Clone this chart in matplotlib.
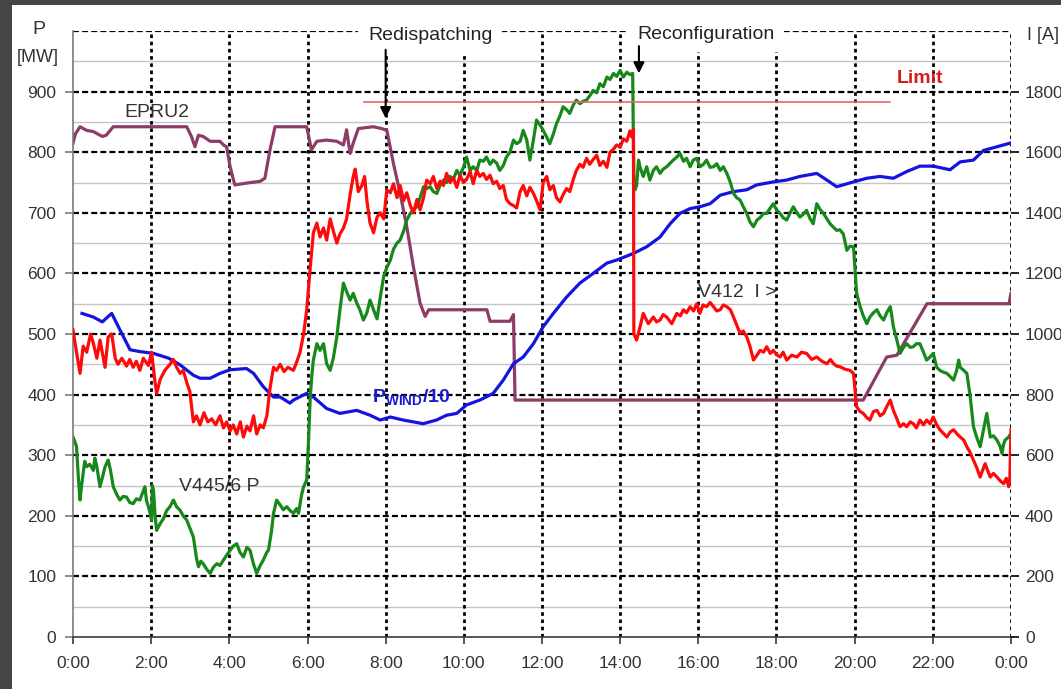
import numpy as np
import matplotlib.pyplot as plt
from matplotlib.patches import Rectangle

plt.rcParams['font.family'] = ['Liberation Sans', 'DejaVu Sans']
plt.rcParams['mathtext.fontset'] = 'custom'
plt.rcParams['mathtext.rm'] = 'Liberation Sans'
plt.rcParams['mathtext.bf'] = 'Liberation Sans:bold'

# time axis in hours

# EPRU2 power [MW]
epru2_t = [0.0, 0.06, 0.18, 0.35, 0.52, 0.75, 0.85, 1.03, 1.37, 1.8, 2.23, 2.5, 2.91, 3.03, 3.12, 3.21,
           3.33, 3.51, 3.76, 3.85, 3.93, 4.02, 4.14, 4.44, 4.79, 4.91, 5.04, 5.17, 5.64, 5.98, 6.10, 6.24,
           6.49, 6.75, 6.92, 7.0, 7.09, 7.17, 7.30, 7.68, 7.90, 8.03, 8.20, 8.37, 8.54, 8.71, 8.88, 9.01,
           9.10, 10.59, 10.67, 11.18, 11.27, 11.31, 20.22, 20.82, 21.08, 21.85, 23.95, 24.0]
epru2_p = [815, 830, 842, 836, 834, 826, 828, 842, 842, 842, 842, 842, 842, 826, 809, 828,
           826, 818, 818, 812, 809, 776, 746, 749, 752, 757, 804, 842, 842, 842, 804, 818,
           820, 818, 812, 837, 798, 815, 839, 842, 839, 836, 781, 732, 677, 611, 551, 529,
           540, 540, 521, 521, 532, 391, 391, 462, 465, 550, 550, 567]

# P_WIND / 10 [MW]
wind_t = [0.23, 0.52, 0.75, 0.99, 1.20, 1.46, 1.71, 2.06, 2.45, 2.74, 3.08, 3.25, 3.51, 3.76, 4.02, 4.44,
          4.62, 4.87, 5.13, 5.30, 5.55, 5.64, 5.98, 6.15, 6.49, 6.83, 7.26, 7.60, 7.86, 8.12, 8.45, 8.96,
          9.30, 9.56, 9.82, 10.07, 10.41, 10.75, 11.01, 11.27, 11.52, 11.78, 12.03, 12.29, 12.63, 12.97,
          13.31, 13.66, 13.91, 14.34, 14.68, 15.02, 15.28, 15.53, 15.79, 16.04, 16.30, 16.56, 16.90,
          17.24, 17.49, 17.92, 18.26, 18.60, 19.03, 19.29, 19.54, 19.97, 20.31, 20.65, 20.99, 21.33,
          21.67, 22.01, 22.44, 22.70, 23.04, 23.30, 23.64, 23.98]
wind_p = [534, 528, 520, 534, 507, 474, 471, 468, 460, 449, 432, 427, 427, 435, 441, 443,
          435, 413, 396, 396, 386, 391, 402, 396, 377, 369, 374, 366, 358, 363, 358, 352,
          358, 366, 369, 383, 391, 402, 424, 451, 462, 484, 512, 534, 561, 584,
          600, 617, 622, 633, 644, 660, 682, 699, 707, 710, 715, 729, 735,
          738, 746, 751, 754, 760, 765, 754, 743, 751, 757, 760, 757, 768,
          777, 777, 771, 784, 787, 803, 809, 815]

# V445/6 P [MW]
v445_t = [0.0, 0.05, 0.09, 0.14, 0.18, 0.22, 0.26, 0.30, 0.35, 0.43, 0.52, 0.56, 0.61, 0.69, 0.76, 0.82,
          0.90, 0.96, 1.03, 1.12, 1.20, 1.28, 1.37, 1.45, 1.54, 1.62, 1.71, 1.78, 1.84, 1.88, 1.93, 1.97,
          2.01, 2.03, 2.06, 2.10, 2.14, 2.23, 2.31, 2.40, 2.48, 2.57, 2.65, 2.74, 2.82, 2.91, 2.99, 3.08,
          3.16, 3.21, 3.27, 3.33, 3.42, 3.51, 3.59, 3.68, 3.76, 3.85, 3.93, 4.02, 4.10, 4.19, 4.27, 4.36,
          4.45, 4.53, 4.62, 4.70, 4.79, 4.87, 4.96, 5.00, 5.08, 5.13, 5.21, 5.30, 5.38, 5.47, 5.55, 5.64,
          5.72, 5.77, 5.85, 5.90, 5.98, 6.03, 6.07, 6.11, 6.15, 6.24, 6.32, 6.41, 6.49, 6.58, 6.66, 6.75,
          6.83, 6.92, 7.0, 7.09, 7.17, 7.26, 7.34, 7.43, 7.52, 7.60, 7.69, 7.78, 7.86, 7.95, 8.03, 8.12,
          8.20, 8.29, 8.37, 8.46, 8.54, 8.63, 8.71, 8.80, 8.88, 8.97, 9.05, 9.14, 9.22, 9.31, 9.39, 9.48,
          9.56, 9.65, 9.73, 9.82, 9.90, 9.99, 10.07, 10.16, 10.24, 10.33, 10.41, 10.50, 10.58, 10.67,
          10.75, 10.84, 10.92, 11.01, 11.09, 11.18, 11.27, 11.35, 11.44, 11.52, 11.61, 11.69, 11.78,
          11.86, 11.95, 12.03, 12.12, 12.20, 12.29, 12.37, 12.46, 12.54, 12.63, 12.71, 12.80, 12.88,
          12.97, 13.05, 13.14, 13.22, 13.31, 13.40, 13.48, 13.57, 13.66, 13.74, 13.83, 13.91, 14.00,
          14.08, 14.17, 14.25, 14.32, 14.35, 14.38, 14.42, 14.47, 14.51, 14.59, 14.68, 14.76, 14.85,
          14.93, 15.02, 15.10, 15.19, 15.28, 15.36, 15.45, 15.53, 15.62, 15.70, 15.79, 15.87, 15.96,
          16.04, 16.13, 16.21, 16.30, 16.39, 16.47, 16.56, 16.64, 16.73, 16.82, 16.90, 16.98, 17.07,
          17.15, 17.24, 17.32, 17.41, 17.50, 17.58, 17.67, 17.75, 17.84, 17.92, 18.00, 18.09, 18.17,
          18.26, 18.35, 18.43, 18.52, 18.60, 18.69, 18.77, 18.86, 18.94, 19.03, 19.12, 19.20, 19.29,
          19.37, 19.46, 19.54, 19.62, 19.71, 19.80, 19.88, 19.97, 20.05, 20.14, 20.22, 20.31, 20.39,
          20.48, 20.57, 20.65, 20.74, 20.82, 20.91, 20.95, 20.99, 21.08, 21.16, 21.25, 21.33, 21.42,
          21.50, 21.58, 21.67, 21.76, 21.84, 21.93, 22.01, 22.10, 22.18, 22.27, 22.36, 22.44, 22.53,
          22.61, 22.66, 22.70, 22.79, 22.87, 22.95, 23.04, 23.12, 23.21, 23.29, 23.38, 23.47, 23.55,
          23.64, 23.72, 23.77, 23.81, 23.85, 23.94, 24.0]
v445_p = [330, 322, 314, 260, 226, 250, 270, 290, 281, 285, 275, 295, 281, 248, 265, 281,
          292, 275, 248, 235, 226, 232, 231, 222, 220, 228, 226, 238, 248, 225, 215, 205,
          193, 250, 242, 200, 176, 187, 195, 209, 215, 226, 215, 209, 200, 193, 180, 165,
          130, 116, 125, 121, 112, 105, 115, 121, 118, 127, 135, 143, 150, 154, 140, 132,
          148, 143, 120, 105, 118, 127, 140, 143, 175, 204, 226, 218, 210, 215, 209, 204,
          212, 204, 235, 248, 259, 330, 396, 430, 457, 484, 473, 484, 451, 440, 460, 495,
          540, 584, 570, 556, 567, 551, 540, 523, 535, 556, 540, 525, 560, 595, 610, 622,
          640, 650, 655, 670, 688, 699, 705, 710, 725, 743, 740, 743, 735, 732, 745, 754,
          750, 760, 755, 770, 762, 775, 792, 770, 776, 770, 787, 785, 792, 780,
          787, 782, 770, 778, 792, 800, 820, 814, 818, 836, 820, 787, 820,
          853, 845, 836, 825, 814, 830, 847, 860, 875, 870, 864, 878, 886,
          880, 884, 886, 893, 902, 898, 913, 908, 924, 920, 930, 925, 935,
          924, 932, 928, 930, 748, 738, 745, 787, 775, 760, 776, 754, 770,
          776, 765, 772, 776, 782, 787, 792, 798, 785, 790, 776, 787, 790,
          776, 780, 787, 775, 776, 781, 770, 776, 765, 750, 732, 725, 721,
          710, 699, 685, 677, 688, 692, 699, 699, 708, 715, 705, 699, 692,
          688, 700, 710, 700, 693, 698, 704, 690, 682, 715, 705, 699, 690,
          682, 676, 671, 672, 665, 638, 645, 644, 567, 545, 530, 517, 528,
          535, 540, 530, 523, 535, 545, 530, 512, 490, 468, 478, 484, 478,
          479, 484, 484, 470, 457, 462, 468, 445, 440, 437, 435, 430, 424,
          440, 457, 445, 440, 435, 400, 347, 330, 314, 340, 369, 330, 332,
          325, 315, 303, 318, 325, 330, 336]

# V412 I [A]
v412_t = [0.0, 0.09, 0.18, 0.26, 0.35, 0.45, 0.52, 0.61, 0.69, 0.82, 0.90, 0.99, 1.08, 1.15, 1.25, 1.37,
          1.45, 1.54, 1.62, 1.71, 1.80, 1.93, 2.01, 2.10, 2.14, 2.23, 2.35, 2.48, 2.57, 2.65, 2.74, 2.82,
          2.91, 2.99, 3.08, 3.16, 3.25, 3.35, 3.45, 3.55, 3.65, 3.76, 3.85, 3.93, 4.02, 4.10, 4.19, 4.28,
          4.36, 4.45, 4.53, 4.62, 4.70, 4.79, 4.87, 4.96, 5.04, 5.13, 5.21, 5.30, 5.40, 5.50, 5.64, 5.73,
          5.81, 5.90, 5.98, 6.07, 6.15, 6.24, 6.32, 6.41, 6.49, 6.58, 6.66, 6.75, 6.83, 6.92, 7.0, 7.09,
          7.17, 7.22, 7.30, 7.39, 7.46, 7.52, 7.60, 7.69, 7.78, 7.86, 7.95, 8.03, 8.12, 8.20, 8.29, 8.37,
          8.46, 8.54, 8.63, 8.71, 8.80, 8.88, 8.97, 9.05, 9.14, 9.22, 9.31, 9.39, 9.48, 9.56, 9.65, 9.73,
          9.82, 9.90, 9.99, 10.07, 10.16, 10.24, 10.33, 10.41, 10.50, 10.58, 10.67, 10.75, 10.84, 10.92,
          11.01, 11.09, 11.18, 11.27, 11.35, 11.44, 11.52, 11.61, 11.69, 11.78, 11.86, 11.95, 12.03,
          12.12, 12.20, 12.29, 12.37, 12.46, 12.54, 12.63, 12.71, 12.80, 12.88, 12.97, 13.05, 13.14,
          13.22, 13.31, 13.40, 13.48, 13.57, 13.66, 13.74, 13.83, 13.91, 14.00, 14.08, 14.17, 14.25,
          14.30, 14.34, 14.35, 14.42, 14.51, 14.59, 14.66, 14.72, 14.85, 14.93, 15.02, 15.10, 15.19,
          15.32, 15.45, 15.54, 15.62, 15.70, 15.79, 15.88, 15.96, 16.04, 16.12, 16.21, 16.30, 16.39,
          16.47, 16.56, 16.64, 16.73, 16.82, 16.90, 16.98, 17.07, 17.15, 17.24, 17.32, 17.41, 17.50,
          17.58, 17.67, 17.75, 17.84, 17.92, 18.00, 18.09, 18.17, 18.26, 18.39, 18.52, 18.64, 18.77,
          18.90, 19.03, 19.16, 19.29, 19.38, 19.46, 19.54, 19.62, 19.75, 19.88, 19.97, 20.05, 20.14,
          20.22, 20.31, 20.39, 20.48, 20.57, 20.65, 20.74, 20.82, 20.91, 20.99, 21.08, 21.16, 21.25,
          21.33, 21.42, 21.50, 21.58, 21.67, 21.76, 21.84, 21.93, 22.01, 22.10, 22.18, 22.27, 22.36,
          22.44, 22.53, 22.62, 22.70, 22.79, 22.87, 22.95, 23.04, 23.12, 23.21, 23.29, 23.34, 23.40,
          23.47, 23.55, 23.64, 23.72, 23.81, 23.88, 23.94, 23.97, 24.0]
v412_i = [1014, 940, 870, 960, 940, 1000, 970, 920, 980, 890, 990, 1000, 920, 900, 920, 894,
          916, 890, 910, 880, 920, 896, 940, 840, 804, 850, 880, 900, 916, 890, 870, 880,
          840, 810, 710, 730, 700, 740, 710, 720, 700, 730, 690, 710, 680, 700, 670, 710,
          660, 696, 680, 730, 670, 700, 690, 730, 820, 890, 880, 900, 876, 890, 880, 910,
          940, 1000, 1080, 1220, 1334, 1366, 1320, 1350, 1310, 1380, 1340, 1300, 1330, 1350, 1380, 1460,
          1520, 1544, 1470, 1490, 1520, 1440, 1366, 1334, 1386, 1400, 1380, 1476, 1466, 1496, 1450, 1490,
          1440, 1466, 1424, 1400, 1444, 1410, 1450, 1508, 1496, 1520, 1480, 1504, 1490, 1530, 1500, 1516,
          1484, 1524, 1500, 1510, 1536, 1496, 1540, 1520, 1530, 1510, 1524, 1496, 1504, 1480,
          1490, 1444, 1430, 1424, 1416, 1470, 1490, 1456, 1484, 1464, 1440, 1410, 1500,
          1520, 1476, 1490, 1450, 1436, 1460, 1480, 1470, 1510, 1540, 1560, 1550, 1580,
          1560, 1576, 1590, 1556, 1570, 1550, 1600, 1610, 1624, 1616, 1644, 1636, 1670,
          1650, 1676, 1000, 980, 1024, 1068, 1050, 1034, 1056, 1040, 1046, 1064, 1056,
          1034, 1068, 1060, 1080, 1070, 1090, 1076, 1100, 1068, 1096, 1090, 1104, 1090,
          1076, 1080, 1096, 1090, 1080, 1056, 1030, 1002, 1010, 990, 960, 914, 930,
          946, 940, 958, 936, 946, 932, 924, 940, 914, 930, 924, 940, 936,
          916, 924, 910, 902, 916, 902, 894, 892, 884, 880, 870, 760, 744,
          738, 724, 716, 744, 748, 730, 738, 760, 782, 748, 720, 694, 704,
          694, 710, 704, 690, 716, 700, 716, 704, 726, 700, 684, 672, 660,
          676, 684, 670, 660, 650, 628, 610, 584, 560, 528, 556, 572, 550,
          528, 540, 528, 516, 506, 524, 496, 520, 684]

# current limit [A]
limit_t = [7.45, 20.9]
limit_i = [1765, 1765]

hours = list(range(0, 25, 2))
hour_labels = ['%d:00' % (h % 24) for h in hours]
p_ticks = list(range(0, 1000, 100))
i_ticks = list(range(0, 2000, 200))

fig = plt.figure(figsize=(10.61, 6.89), dpi=100)
fig.patch.set_facecolor('#454545')
fig.add_artist(Rectangle((12 / 1061, 0), 1, 1 - 5 / 689, transform=fig.transFigure,
                         facecolor='white', edgecolor='none', zorder=0))

ax = fig.add_axes([73 / 1061, 1 - 637 / 689, 938 / 1061, 606 / 689])
ax2 = ax.twinx()

ax.set_xlim(0, 24)
ax.set_ylim(0, 1000)
ax2.set_ylim(0, 2000)

# grid
for y in range(50, 1000, 100):
    ax.axhline(y, color='#c4c4c4', lw=1, zorder=0.5)
for y in range(100, 1001, 100):
    ax.axhline(y, color='black', lw=1.6, ls=(0, (2.7, 1.4)), zorder=0.6)
for h in hours[1:]:
    ax.axvline(h, color='black', lw=2.0, ls=(0, (1.3, 1.3)), zorder=0.6)

ax.plot(epru2_t, epru2_p, color='#8c3c66', lw=2.3, zorder=2)
ax.plot(wind_t, wind_p, color='#1414e0', lw=2.3, zorder=2)
ax.plot(v445_t, v445_p, color='#17891a', lw=2.3, zorder=2)
ax2.plot(v412_t, v412_i, color='#ff0a0a', lw=2.3, zorder=2)
ax2.plot(limit_t, limit_i, color='#e06a6a', lw=1.2, zorder=1.5)

# axes styling
for s in ['top', 'right']:
    ax.spines[s].set_visible(False)
for s in ax2.spines:
    ax2.spines[s].set_visible(False)
ax.spines['left'].set_color('#7a7a7a')
ax.spines['left'].set_linewidth(1.2)
ax.spines['bottom'].set_color('#3a3a3a')
ax.spines['bottom'].set_linewidth(1.2)

ax.set_xticks(hours)
ax.set_xticklabels(hour_labels)
ax.set_yticks(p_ticks)
ax2.set_yticks(i_ticks)
ax.tick_params(axis='x', length=5, width=1.2, color='#3a3a3a', pad=9, labelsize=12.5, labelcolor='#333333')
ax.tick_params(axis='y', length=6, width=1.2, color='#7a7a7a', pad=6, labelsize=12.5, labelcolor='#333333')
ax2.tick_params(axis='y', length=6, width=1.2, color='black', pad=4, labelsize=12.5, labelcolor='#333333')

fig.text(39 / 1061, 1 - 30 / 689, 'P', ha='center', va='center', fontsize=14, color='#333333')
fig.text(38 / 1061, 1 - 57 / 689, '[MW]', ha='center', va='center', fontsize=13, color='#333333')
fig.text(1027 / 1061, 1 - 35 / 689, 'I [A]', ha='left', va='center', fontsize=13, color='#333333')

# labels on the chart
tbox = dict(facecolor='white', edgecolor='none', boxstyle='square,pad=0.5')
ax2.text(9.14, 992, 'Redispatching', transform=ax.transData, ha='center', va='center',
         fontsize=14, color='#222222', bbox=tbox, zorder=6, clip_on=False)
ax2.text(16.2, 995, 'Reconfiguration', transform=ax.transData, ha='center', va='center',
         fontsize=14, color='#222222', bbox=tbox, zorder=6, clip_on=False)
arrow = dict(arrowstyle='-|>', color='black', lw=1.5, mutation_scale=16, shrinkA=0, shrinkB=0)
ax2.annotate('', xy=(8.0, 856), xycoords=ax.transData, xytext=(8.0, 969), textcoords=ax.transData,
             arrowprops=arrow, zorder=7)
ax2.annotate('', xy=(14.48, 930), xycoords=ax.transData, xytext=(14.48, 975), textcoords=ax.transData,
             arrowprops=arrow, zorder=7)

ax2.text(21.67, 922, 'Limit', transform=ax.transData, ha='center', va='center',
         fontsize=14, fontweight='bold', color='#d41c1c', zorder=6)
ax2.text(2.15, 865, 'EPRU2', transform=ax.transData, ha='center', va='center',
         fontsize=14, color='#333333', zorder=6)
ax2.text(3.74, 248, 'V445/6 P', transform=ax.transData, ha='center', va='center',
         fontsize=14, color='#333333', zorder=6)
ax2.text(15.99, 568, 'V412  I >', transform=ax.transData, ha='left', va='center',
         fontsize=14, color='#333333', zorder=6)
ax2.text(7.65, 396, r'$\mathbf{P_{WIND}/10}$', transform=ax.transData, ha='left', va='center',
         fontsize=14, color='#1a1ad0', zorder=6)

plt.savefig('out.png', dpi=100, facecolor=fig.get_facecolor())
